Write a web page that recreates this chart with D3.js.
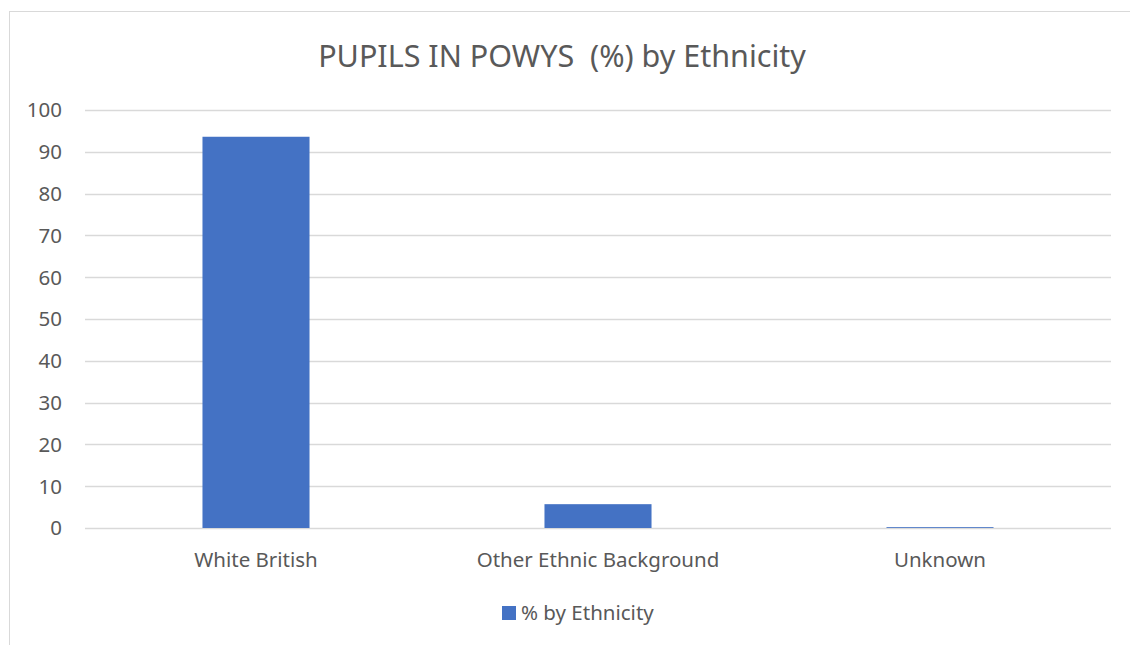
<!doctype html>
<html>
<head>
	<meta charset="utf-8">
	<title>PUPILS IN POWYS (%) by Ethnicity</title>
	<style>
		body { margin: 0; background: #fff; }
		text { font-family: "Noto Sans", "Open Sans", sans-serif; fill: #595959; }
	</style>
</head>
<body>

<svg width="1130" height="645"></svg>
<script src="https://d3js.org/d3.v7.min.js"></script>
<script>
var categories = ["White British", "Other Ethnic Background", "Unknown"];
var values = [93.6, 5.7, 0.2];
var yTicks = [0, 10, 20, 30, 40, 50, 60, 70, 80, 90, 100];
var title = "PUPILS IN POWYS  (%) by Ethnicity";
var seriesName = "% by Ethnicity";

var svg = d3.select("svg"),
    width = +svg.attr("width"),
    height = +svg.attr("height");

// chart frame (runs off the right and bottom edge like the screenshot)
svg.append("rect")
    .attr("x", 9.5)
    .attr("y", 11.5)
    .attr("width", 1140)
    .attr("height", 660)
    .attr("fill", "none")
    .attr("stroke", "#d9d9d9")
    .attr("stroke-width", 1);

var plotLeft = 85, plotRight = 1111, plotTop = 110, plotBottom = 528;

var x = d3.scaleBand()
    .domain(categories)
    .range([plotLeft, plotRight])
    .padding(0);

var y = d3.scaleLinear()
    .domain([0, 100])
    .range([plotBottom, plotTop]);

// gridlines
svg.selectAll(".grid")
    .data(yTicks)
    .enter()
    .append("line")
    .attr("x1", plotLeft)
    .attr("x2", plotRight)
    .attr("y1", function(d){ return Math.round(y(d)) + 0.5; })
    .attr("y2", function(d){ return Math.round(y(d)) + 0.5; })
    .attr("stroke", "#d9d9d9")
    .attr("stroke-width", 1.3);

// y labels
svg.selectAll(".ylab")
    .data(yTicks)
    .enter()
    .append("text")
    .attr("x", 62)
    .attr("y", function(d){ return y(d); })
    .attr("dy", "0.36em")
    .attr("text-anchor", "end")
    .attr("font-size", 20.5)
    .text(function(d){ return d; });

var barW = x.bandwidth() * 0.313;

svg.selectAll(".bar")
    .data(values)
    .enter()
    .append("rect")
    .attr("x", function(d, i){ return x(categories[i]) + x.bandwidth() / 2 - barW / 2; })
    .attr("y", function(d){ return y(d); })
    .attr("width", barW)
    .attr("height", function(d){ return plotBottom - y(d); })
    .attr("fill", "#4472c4");

// category labels
svg.selectAll(".xlab")
    .data(categories)
    .enter()
    .append("text")
    .attr("x", function(d){ return x(d) + x.bandwidth() / 2; })
    .attr("y", 567)
    .attr("text-anchor", "middle")
    .attr("font-size", 20.5)
    .text(function(d){ return d; });

// title
svg.append("text")
    .attr("x", 562)
    .attr("y", 67)
    .attr("text-anchor", "middle")
    .attr("font-size", 30.5)
    .style("white-space", "pre")
    .text(title);

// legend
svg.append("rect")
    .attr("x", 502)
    .attr("y", 606)
    .attr("width", 14)
    .attr("height", 14)
    .attr("fill", "#4472c4");

svg.append("text")
    .attr("x", 521)
    .attr("y", 620)
    .attr("font-size", 20.5)
    .text(seriesName);
</script>
</body>
</html>
